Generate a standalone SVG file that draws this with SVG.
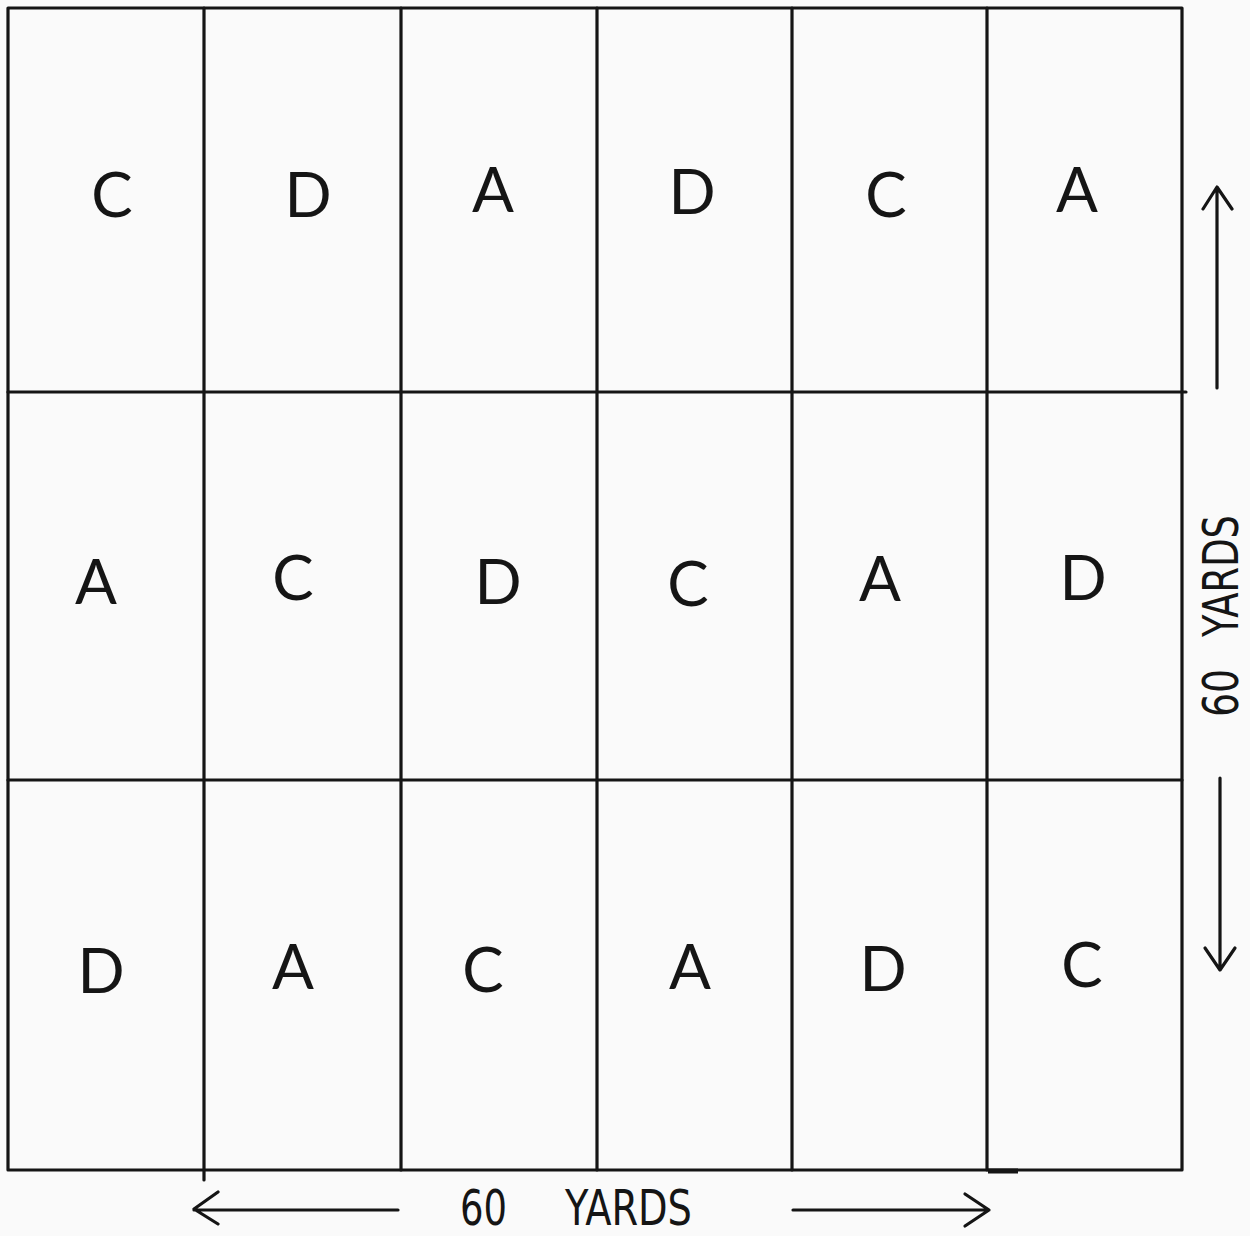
<svg xmlns="http://www.w3.org/2000/svg" width="1250" height="1236" viewBox="0 0 1250 1236">
<style>
.ln{stroke:#151515;stroke-width:3.2;fill:none;stroke-linecap:round;stroke-linejoin:round}
.ar{stroke:#151515;stroke-width:3.2;fill:none;stroke-linecap:round;stroke-linejoin:round}
.lt{font-family:Lato,"DejaVu Sans",sans-serif;font-size:62px;fill:#151515;text-anchor:middle}
.dim{font-family:"Liberation Sans Narrow","DejaVu Sans Condensed",sans-serif;font-size:50px;fill:#151515}
</style>
<rect width="1250" height="1236" fill="#fafafa"/>
<g id="grid">
<rect class="ln" x="8" y="8" width="1174" height="1162"/>
<line class="ln" x1="204" y1="8" x2="204" y2="1180"/>
<line class="ln" x1="401" y1="8" x2="401" y2="1170"/>
<line class="ln" x1="597" y1="8" x2="597" y2="1170"/>
<line class="ln" x1="792" y1="8" x2="792" y2="1170"/>
<line class="ln" x1="987" y1="8" x2="987" y2="1170"/>
<line class="ln" x1="8" y1="392" x2="1186" y2="392"/>
<line class="ln" x1="8" y1="780" x2="1182" y2="780"/>
<line stroke="#151515" stroke-width="5" x1="988" y1="1171" x2="1018" y2="1171"/>
</g>
<g id="cells">
<text class="lt" x="112" y="217">C</text>
<text class="lt" x="308" y="217">D</text>
<text class="lt" x="493" y="212">A</text>
<text class="lt" x="692" y="214">D</text>
<text class="lt" x="886" y="217">C</text>
<text class="lt" x="1077" y="212">A</text>
<text class="lt" x="96" y="604">A</text>
<text class="lt" x="293" y="600">C</text>
<text class="lt" x="498" y="604">D</text>
<text class="lt" x="688" y="606">C</text>
<text class="lt" x="880" y="601">A</text>
<text class="lt" x="1083" y="600">D</text>
<text class="lt" x="101" y="993">D</text>
<text class="lt" x="293" y="989">A</text>
<text class="lt" x="483" y="992">C</text>
<text class="lt" x="690" y="989">A</text>
<text class="lt" x="883" y="991">D</text>
<text class="lt" x="1082" y="987">C</text>
</g>
<g id="connectors">
<path class="ar" d="M1217 388 V187 M1203 209 L1217 187 L1232 209"/>
<path class="ar" d="M1220 778 V970 M1205 948 L1220 970 L1235 948"/>
<path class="ar" d="M398 1210 H194 M218 1192 L194 1209 L218 1224"/>
<path class="ar" d="M793 1210 H989 M965 1194 L989 1210 L965 1226"/>
</g>
<g id="labels">
<text class="dim" transform="translate(1238 717) rotate(-90)" textLength="48" lengthAdjust="spacingAndGlyphs">60</text>
<text class="dim" transform="translate(1238 637) rotate(-90)" textLength="122" lengthAdjust="spacingAndGlyphs">YARDS</text>
<text class="dim" x="460" y="1225" textLength="47" lengthAdjust="spacingAndGlyphs">60</text>
<text class="dim" x="565" y="1225" textLength="127" lengthAdjust="spacingAndGlyphs">YARDS</text>
</g>
</svg>
